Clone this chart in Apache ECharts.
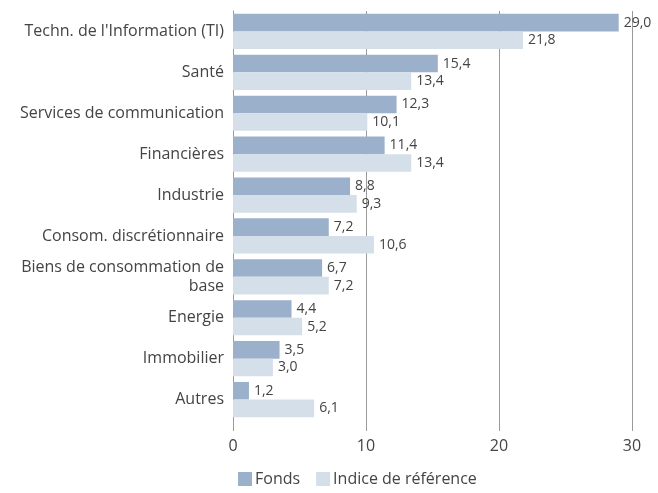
<!DOCTYPE html>
<html>
<head>
<meta charset="utf-8">
<script src="https://cdn.jsdelivr.net/npm/echarts@6/dist/echarts.min.js"></script>
<style>
  html, body { margin: 0; padding: 0; background: #fff; }
</style>
</head>
<body>
<div id="chart" style="width:658px;height:493px;"></div>
<script>
const categories = [
  "Techn. de l'Information (TI)",
  'Santé',
  'Services de communication',
  'Financières',
  'Industrie',
  'Consom. discrétionnaire',
  'Biens de consommation de\nbase',
  'Energie',
  'Immobilier',
  'Autres'
];
const fonds = [29.0, 15.4, 12.3, 11.4, 8.8, 7.2, 6.7, 4.4, 3.5, 1.2];
const indice = [21.8, 13.4, 10.1, 13.4, 9.3, 10.6, 7.2, 5.2, 3.0, 6.1];
const xTicks = [0, 10, 20, 30];

const fmt = function (p) { return p.value.toFixed(1).replace('.', ','); };
const font = '"Open Sans", sans-serif';

let myChart = echarts.init(document.getElementById('chart'));
const option = {
  animation: false,
  textStyle: { fontFamily: font },
  grid: { left: 233, right: 26, top: 11, bottom: 73 },
  legend: {
    bottom: 1,
    left: 233,
    itemWidth: 14,
    itemHeight: 14,
    itemGap: 16,
    icon: 'rect',
    textStyle: { color: '#444', fontSize: 16, fontFamily: font, padding: [0, 0, 0, -2] },
    data: ['Fonds', 'Indice de référence']
  },
  xAxis: {
    type: 'value',
    min: xTicks[0],
    max: xTicks[xTicks.length - 1],
    interval: 10,
    axisLine: { show: false },
    axisTick: { show: true, length: 11, lineStyle: { color: '#9a9a9a' } },
    axisLabel: { color: '#444', fontSize: 16, margin: 18, fontFamily: font },
    splitLine: { show: true, lineStyle: { color: '#9a9a9a', width: 1 } }
  },
  yAxis: {
    type: 'category',
    inverse: true,
    data: categories,
    axisLine: { show: true, lineStyle: { color: '#9a9a9a' } },
    axisTick: { show: false },
    axisLabel: { color: '#444', fontSize: 16, margin: 9, lineHeight: 19, fontFamily: font }
  },
  series: [
    {
      name: 'Fonds',
      type: 'bar',
      data: fonds,
      barGap: '0%',
      barCategoryGap: '14%',
      itemStyle: { color: '#9bb0cb' },
      label: { show: true, position: 'right', distance: 5, color: '#444', fontSize: 14, formatter: fmt, fontFamily: font }
    },
    {
      name: 'Indice de référence',
      type: 'bar',
      data: indice,
      barGap: '0%',
      barCategoryGap: '14%',
      itemStyle: { color: '#d5dfea' },
      label: { show: true, position: 'right', distance: 5, color: '#444', fontSize: 14, formatter: fmt, fontFamily: font }
    }
  ]
};
myChart.setOption(option);
</script>
</body>
</html>
